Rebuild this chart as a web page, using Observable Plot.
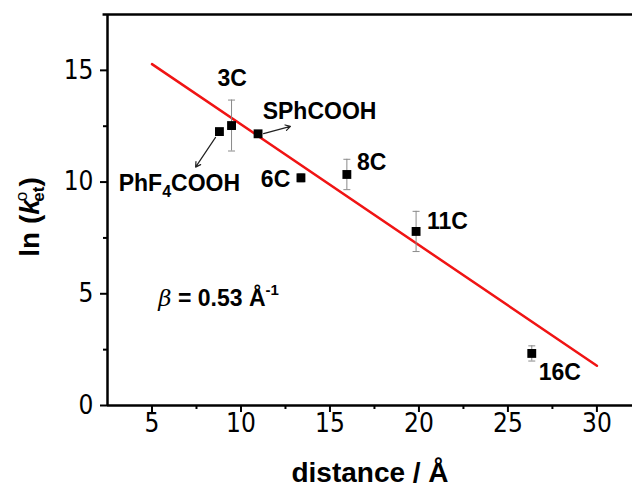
<!DOCTYPE html>
<html>
<head>
<meta charset="utf-8">
<script src="https://cdn.jsdelivr.net/npm/d3@7"></script>
<script src="https://cdn.jsdelivr.net/npm/@observablehq/plot@0.6"></script>
<style>
  body { margin: 0; background: white; }
  #chart svg { display: block; }
</style>
</head>
<body>
<div id="chart"></div>
<script>
// ---- data ----
const samples   = ["PhF4COOH", "3C", "SPhCOOH", "6C", "8C", "11C", "16C"];
const distance  = [8.79, 9.47, 10.96, 13.37, 15.95, 19.84, 26.34];   // Å
const lnK       = [12.26, 12.53, 12.16, 10.19, 10.34, 7.79, 2.33];   // ln(k°et)
const errorBar  = [null, 1.14, null, 0.18, 0.68, 0.90, 0.34];
const fitX      = [5, 30];
const fitY      = [15.28, 1.78];
const xTicks    = [5, 10, 15, 20, 25, 30];
const xMinor    = [7.5, 12.5, 17.5, 22.5, 27.5];
const yTicks    = [0, 5, 10, 15];
const yMinor    = [2.5, 7.5, 12.5];
// annotation anchors (data coordinates)
const labelX    = [3.13, 8.68, 11.22, 12.77, 16.52, 20.45, 26.73];
const labelY    = [9.58, 14.32, 12.82, 9.76, 10.52, 7.92, 1.12];
const labelEnd  = [false, false, false, true, false, false, false];
const arrowFrom = [[8.57, 12.0], [11.27, 12.17]];
const arrowTo   = [[7.45, 10.67], [12.78, 12.49]];
const betaText  = "β = 0.53 Å-1";
const betaPos   = [5.35, 4.45];

const points = samples.map((s, i) => ({name: s, x: distance[i], y: lnK[i], e: errorBar[i]}));
const errs = points.filter(d => d.e != null).map(d => ({x: d.x, lo: d.y - d.e, hi: d.y + d.e}));
const fit = fitX.map((x, i) => ({x, y: fitY[i]}));
const labels = samples.map((s, i) => ({text: s, x: labelX[i], y: labelY[i], end: labelEnd[i]}));
const arrows = arrowFrom.map((f, i) => ({x1: f[0], y1: f[1], x2: arrowTo[i][0], y2: arrowTo[i][1]}));

const capSymbol = {
  draw(context, size) {
    const r = Math.sqrt(size / Math.PI);
    context.moveTo(-r, 0);
    context.lineTo(r, 0);
  }
};

const tickFont = "'Liberation Sans Narrow','DejaVu Sans Condensed',sans-serif";
const boldFont = "'Liberation Sans',Arial,sans-serif";

const chart = Plot.plot({
  width: 633,
  height: 488,
  marginLeft: 107,
  marginRight: 1,
  marginTop: 14,
  marginBottom: 83,
  x: {domain: [2.5, 32], label: null},
  y: {domain: [0, 17.5], label: null},
  style: {fontFamily: tickFont, fontSize: "26px", color: "black", background: "white", overflow: "visible"},
  marks: [
    Plot.axisX(xTicks, {tickSize: 7, tickPadding: 1, strokeWidth: 2, fontSize: 26, label: null}),
    Plot.axisX(xMinor, {tickSize: 4, strokeWidth: 2, tickFormat: () => "", label: null}),
    Plot.axisY(yTicks, {tickSize: 7, tickPadding: 7, strokeWidth: 2, fontSize: 26, label: null}),
    Plot.axisY(yMinor, {tickSize: 4, strokeWidth: 2, tickFormat: () => "", label: null}),
    Plot.ruleY([0], {stroke: "black", strokeWidth: 2.5}),
    Plot.ruleY([17.5], {x1: 2.25, x2: 32, stroke: "black", strokeWidth: 2.5}),
    Plot.ruleX([2.5], {stroke: "black", strokeWidth: 2.5}),
    Plot.line(fit, {x: "x", y: "y", stroke: "#f01414", strokeWidth: 2.5}),
    Plot.ruleX(errs, {x: "x", y1: "lo", y2: "hi", stroke: "#8a8a8a", strokeWidth: 1}),
    Plot.dot(errs, {x: "x", y: "lo", symbol: capSymbol, r: 3.5, fill: "none", stroke: "#8a8a8a", strokeWidth: 1}),
    Plot.dot(errs, {x: "x", y: "hi", symbol: capSymbol, r: 3.5, fill: "none", stroke: "#8a8a8a", strokeWidth: 1}),
    Plot.dot(points, {x: "x", y: "y", symbol: "square", r: 5, fill: "black", stroke: "none"}),
    Plot.arrow(arrows, {x1: "x1", y1: "y1", x2: "x2", y2: "y2", stroke: "#222", strokeWidth: 1.2, headLength: 7, bend: 0}),
    Plot.text(labels.filter(d => !d.end), {x: "x", y: "y", text: "text", textAnchor: "start", lineAnchor: "bottom",
      fontFamily: boldFont, fontWeight: "bold", fontSize: 23, fill: "black"}),
    Plot.text(labels.filter(d => d.end), {x: "x", y: "y", text: "text", textAnchor: "end", lineAnchor: "bottom",
      fontFamily: boldFont, fontWeight: "bold", fontSize: 23, fill: "black"}),
    Plot.text([betaText], {x: betaPos[0], y: betaPos[1], text: d => d, textAnchor: "start", lineAnchor: "bottom",
      fontFamily: boldFont, fontWeight: "bold", fontSize: 23, fill: "black"}),
    Plot.text(["distance / Å"], {frameAnchor: "bottom", dy: 76, text: d => d, lineAnchor: "bottom",
      fontFamily: boldFont, fontWeight: "bold", fontSize: 28, fill: "black"})
  ]
});

document.getElementById("chart").appendChild(chart);

const svg = d3.select(chart);
// subscript 4 in PhF4COOH
svg.selectAll("text").filter(function() { return this.textContent === "PhF4COOH"; }).each(function() {
  const t = d3.select(this);
  t.text(null);
  t.append("tspan").text("PhF");
  t.append("tspan").attr("font-size", "16px").attr("dy", "6px").text("4");
  t.append("tspan").attr("dy", "-6px").text("COOH");
});
// beta label
svg.selectAll("text").filter(function() { return this.textContent === betaText; }).each(function() {
  const t = d3.select(this);
  t.text(null);
  t.append("tspan").attr("font-family", "'DejaVu Serif',serif").attr("font-style", "italic").attr("font-weight", "normal").text("β");
  t.append("tspan").text(" = 0.53 Å");
  t.append("tspan").attr("font-size", "15px").attr("dy", "-11px").text("-1");
});
// y axis title: ln (k°et)
const yl = svg.append("text")
  .attr("transform", "translate(39,217) rotate(-90)")
  .attr("text-anchor", "middle")
  .attr("font-family", boldFont)
  .attr("font-weight", "bold")
  .attr("font-size", "28px")
  .attr("fill", "black");
yl.append("tspan").text("ln (");
yl.append("tspan").attr("font-style", "italic").text("k");
yl.append("tspan").attr("font-size", "17px").attr("font-weight", "normal").attr("dy", "-12px").attr("dx", "-2px").text("o");
yl.append("tspan").attr("font-size", "17px").attr("dy", "17px").attr("dx", "-10px").text("et");
yl.append("tspan").attr("dy", "-5px").text(")");
</script>
</body>
</html>
